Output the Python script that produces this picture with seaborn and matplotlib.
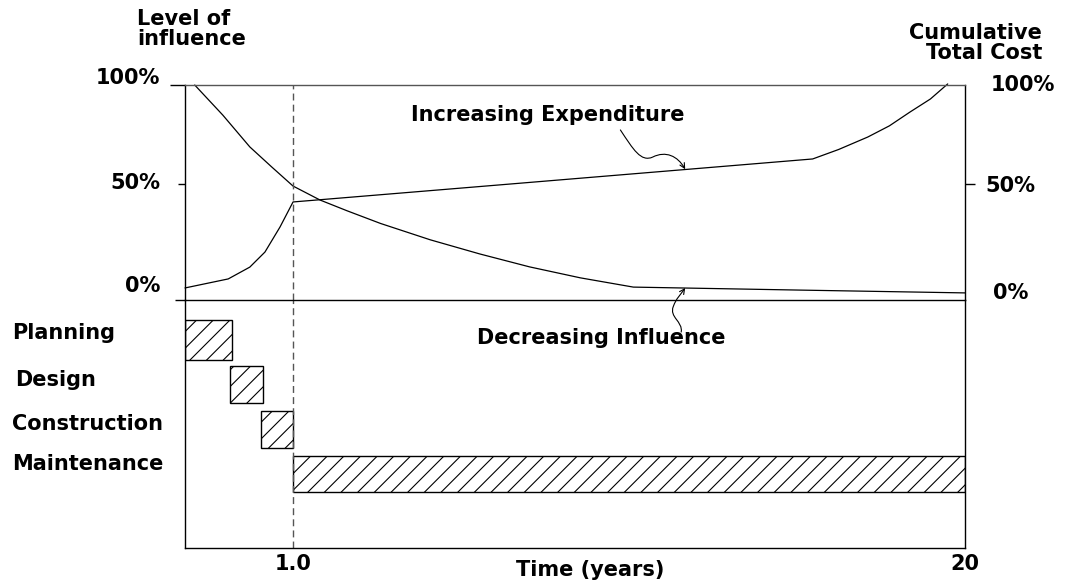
import numpy as np
import matplotlib
matplotlib.use("Agg")
import matplotlib.pyplot as plt
from matplotlib.path import Path
from matplotlib.patches import FancyArrowPatch
import seaborn as sns

sns.set_style("white")
plt.rcParams['font.family'] = ['DejaVu Sans']
plt.rcParams['font.weight'] = 'bold'
plt.rcParams['text.color'] = 'black'
plt.rcParams['xtick.color'] = 'black'
plt.rcParams['ytick.color'] = 'black'
plt.rcParams['axes.edgecolor'] = 'black'
plt.rcParams['hatch.linewidth'] = 0.8
plt.rcParams['hatch.color'] = 'black'

FS = 15

# time axis is schematic: 1.0 year at the dashed line, 20 years at the right edge
x_end = 7.22
x_tick_pos = [1.0, x_end]
x_tick_labels = ['1.0', '20']

# level of influence (%)
influence_x = [0.09, 0.35, 0.60, 0.80, 1.0, 1.25, 1.5, 1.81, 2.27, 2.73, 3.19, 3.66, 4.15, 5.7, 7.22]
influence_y = [100, 86, 71.2, 62, 53.0, 46.5, 41.5, 35.6, 28.0, 21.4, 15.4, 10.3, 6.0, 4.6, 3.3]

# cumulative total cost (%)
cost_x = [0.0, 0.40, 0.60, 0.74, 0.88, 1.0, 3.0, 5.81, 6.05, 6.32, 6.52, 6.71, 6.90, 7.06]
cost_y = [5.6, 9.8, 15.3, 22.3, 34.0, 45.6, 53.9, 65.6, 70.0, 75.8, 81.0, 87.4, 93.5, 100.5]

# project phases (start, end in schematic time units)
phases = ['Planning', 'Design', 'Construction', 'Maintenance']
phase_start = [0.0, 0.42, 0.70, 1.0]
phase_end = [0.435, 0.72, 1.0, x_end]

fig = plt.figure(figsize=(10.65, 5.82), dpi=100)
W, H = 1065, 582


def fx(px):
    return px / W


def fy(py):
    return 1 - py / H


ax2 = fig.add_axes([fx(185), fy(548), fx(780), 248 / H])
ax = fig.add_axes([fx(185), fy(300), fx(780), 215 / H])
ax.patch.set_alpha(0)
ax2.patch.set_alpha(0)

sns.lineplot(x=influence_x, y=influence_y, ax=ax, color='black', lw=0.9, clip_on=False)
sns.lineplot(x=cost_x, y=cost_y, ax=ax, color='black', lw=0.9, clip_on=False)
ax.set_xlim(0, x_end)
ax.set_ylim(0, 100)
ax.set_xticks([])
ax.set_yticks([0, 54, 100])
ax.set_yticklabels([])
ax.yaxis.set_ticks_position('both')
ax.tick_params(axis='y', direction='out', length=7, width=1, color='black')
ticks = ax.yaxis.get_major_ticks()
ticks[0].tick1line.set_markersize(7)
ticks[1].tick1line.set_markersize(5)
ticks[2].tick1line.set_markersize(11)
ticks[0].tick2line.set_visible(False)
ticks[2].tick2line.set_visible(False)
for s in ['left', 'right', 'top', 'bottom']:
    ax.spines[s].set_color('black')
    ax.spines[s].set_linewidth(1.0)
ax.spines['top'].set_color('#555555')

# percent labels
left_lab = ['100%', '50%', '0%']
left_lab_y = [103.3, 54.4, 6.5]
right_lab = ['100%', '50%', '0%']
right_lab_y = [100, 53, 3.3]
right_lab_x = [7.454, 7.407, 7.48]
for t, yv in zip(left_lab, left_lab_y):
    ax.text(-0.231, yv, t, ha='right', va='center', fontsize=FS)
for t, xv, yv in zip(right_lab, right_lab_x, right_lab_y):
    ax.text(xv, yv, t, ha='left', va='center', fontsize=FS)

ax.text(3.36, 86.0, 'Increasing Expenditure', ha='center', va='center', fontsize=FS)
ax.text(3.85, -17.7, 'Decreasing Influence', ha='center', va='center', fontsize=FS)

# squiggly pointers
p1 = Path([(4.03, 79.1), (4.15, 70), (4.22, 64), (4.33, 66.5),
           (4.45, 69.5), (4.56, 67), (4.63, 60.8)],
          [Path.MOVETO, Path.CURVE4, Path.CURVE4, Path.CURVE4,
           Path.CURVE4, Path.CURVE4, Path.CURVE4])
ax.add_patch(FancyArrowPatch(path=p1, arrowstyle='->', mutation_scale=9,
                             lw=0.8, color='black', clip_on=False))
p2 = Path([(4.593, -14.9), (4.61, -10), (4.48, -8), (4.52, -3),
           (4.55, 1), (4.58, 2), (4.63, 5.6)],
          [Path.MOVETO, Path.CURVE4, Path.CURVE4, Path.CURVE4,
           Path.CURVE4, Path.CURVE4, Path.CURVE4])
ax.add_patch(FancyArrowPatch(path=p2, arrowstyle='->', mutation_scale=9,
                             lw=0.8, color='black', clip_on=False))

# phases
rows = np.arange(len(phases))
widths = np.array(phase_end) - np.array(phase_start)
heights = [0.9, 0.83, 0.83, 0.8]
ax2.barh(rows, widths, left=phase_start, height=heights, color='white',
         edgecolor='black', linewidth=1.0, hatch='//')
ax2.set_xlim(0, x_end)
ax2.set_ylim(4.65, -0.9)
ax2.set_yticks([4.65])
ax2.set_yticklabels([])
ax2.tick_params(axis='y', direction='out', length=11, width=1, color='black')
ax2.set_xticks(x_tick_pos)
ax2.set_xticklabels(x_tick_labels, fontsize=FS)
ax2.tick_params(axis='x', length=0, pad=4)
ax2.spines['top'].set_visible(False)
for s in ['left', 'right', 'bottom']:
    ax2.spines[s].set_color('black')
    ax2.spines[s].set_linewidth(1.0)

label_y = [333, 380, 424, 464]
label_x = [12, 15, 12, 12]
for t, xp, yp in zip(phases, label_x, label_y):
    fig.text(fx(xp), fy(yp), t, ha='left', va='center', fontsize=FS)

for a in (ax, ax2):
    a.axvline(1.0, color='#555555', ls=(0, (5, 3)), lw=1.0)

fig.text(fx(590), fy(570), 'Time (years)', ha='center', va='center', fontsize=FS)
fig.text(fx(137), fy(29), 'Level of\ninfluence', ha='left', va='center', fontsize=FS,
         linespacing=1.0)
fig.text(fx(1042), fy(43), 'Cumulative\nTotal Cost', ha='right', va='center', fontsize=FS,
         linespacing=1.0, multialignment='right')

fig.savefig('out.png', dpi=100)
